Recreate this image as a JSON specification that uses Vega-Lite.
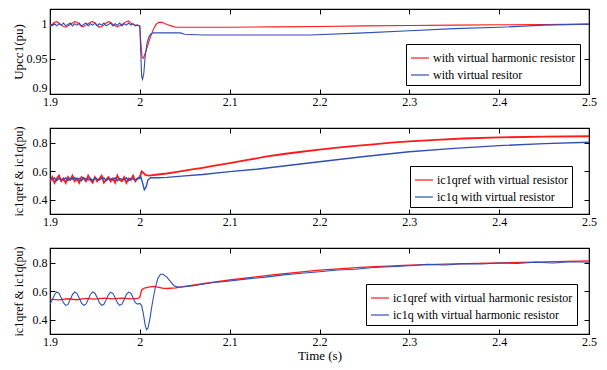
{
  "$schema": "https://vega.github.io/schema/vega-lite/v6.json",
  "padding": {"left": 11, "top": 7, "right": 10, "bottom": 6},
  "background": "white",
  "bounds": "flush",
  "spacing": 34,
  "config": {
    "view": {"stroke": "black", "strokeWidth": 1.2},
    "font": "Liberation Serif",
    "axis": {"domain": false, "grid": false, "tickColor": "black", "tickSize": -5, "tickWidth": 1, "labelFont": "Liberation Serif", "labelFontSize": 12, "labelColor": "black", "titleFont": "Liberation Serif", "titleFontSize": 13, "titleFontWeight": "normal", "titleColor": "black", "labelFlush": false, "labelOverlap": false, "labelPadding": 8},
    "axisBottom": {"labelPadding": 7},
    "legend": {"title": null, "orient": "none", "symbolType": "stroke", "symbolSize": 324, "symbolStrokeWidth": 1.2, "labelFont": "Liberation Serif", "labelFontSize": 12, "labelColor": "black", "strokeColor": "black", "fillColor": "white", "padding": 4, "rowPadding": 1, "labelOffset": 3, "labelLimit": 400}
  },
  "resolve": {"scale": {"color": "independent"}, "legend": {"color": "independent"}},
  "vconcat": [
    {
      "width": 539, "height": 85,
      "layer": [
        {
          "data": {"values": [
            {"t":1.9,"v":0.997},{"t":1.9025,"v":0.999},{"t":1.905,"v":1.002},{"t":1.9075,"v":1.003},{"t":1.91,"v":1.001},{"t":1.9125,"v":0.998},{"t":1.915,"v":0.996},{"t":1.9175,"v":0.995},{"t":1.92,"v":0.997},{"t":1.9225,"v":0.999},{"t":1.925,"v":1.001},{"t":1.9275,"v":1.003},{"t":1.93,"v":1.002},{"t":1.9325,"v":0.999},{"t":1.935,"v":0.996},{"t":1.9375,"v":0.996},{"t":1.94,"v":0.998},{"t":1.9425,"v":1.0},{"t":1.945,"v":1.002},{"t":1.9475,"v":1.003},{"t":1.95,"v":1.001},{"t":1.9525,"v":0.998},{"t":1.955,"v":0.995},{"t":1.9575,"v":0.996},{"t":1.96,"v":0.998},{"t":1.9625,"v":1.001},{"t":1.965,"v":1.003},{"t":1.9675,"v":1.002},{"t":1.97,"v":0.999},{"t":1.9725,"v":0.997},{"t":1.975,"v":0.996},{"t":1.9775,"v":0.997},{"t":1.98,"v":0.999},{"t":1.9825,"v":1.001},{"t":1.985,"v":1.003},{"t":1.9875,"v":1.004},{"t":1.99,"v":1.001},{"t":1.9925,"v":0.999},{"t":1.995,"v":0.998},{"t":1.9975,"v":0.998},
            {"t":2.0,"v":0.997},{"t":2.001,"v":0.975},{"t":2.0025,"v":0.952},{"t":2.004,"v":0.951},{"t":2.006,"v":0.958},{"t":2.008,"v":0.966},{"t":2.01,"v":0.974},{"t":2.012,"v":0.982},{"t":2.015,"v":0.992},{"t":2.018,"v":0.999},{"t":2.021,"v":1.002},{"t":2.025,"v":1.002},{"t":2.03,"v":0.999},{"t":2.035,"v":0.997},{"t":2.04,"v":0.995},{"t":2.05,"v":0.995},{"t":2.07,"v":0.995},{"t":2.1,"v":0.995},{"t":2.15,"v":0.9955},{"t":2.2,"v":0.996},{"t":2.25,"v":0.997},{"t":2.3,"v":0.9975},{"t":2.35,"v":0.998},{"t":2.4,"v":0.9985},{"t":2.45,"v":0.999},{"t":2.5,"v":0.9995}
          ]},
          "mark": {"type": "line", "strokeWidth": 1.1, "clip": true},
          "encoding": {
            "x": {"field": "t", "type": "quantitative", "scale": {"domain": [1.9, 2.5], "nice": false, "zero": false}, "axis": {"values": [1.9, 2, 2.1, 2.2, 2.3, 2.4, 2.5], "format": "~g", "title": null}},
            "y": {"field": "v", "type": "quantitative", "scale": {"domain": [0.9, 1.021], "nice": false, "zero": false}, "axis": {"values": [0.9, 0.95, 1], "format": "~g", "title": "Upcc1(pu)", "titleX": -28, "titleBaseline": "alphabetic", "labelFlush": true, "labelFlushOffset": 0}},
            "color": {"datum": "with virtual harmonic resistor", "type": "nominal", "scale": {"domain": ["with virtual harmonic resistor", "with virtual resitor"], "range": ["#ff1a1a", "#2f4fb5"]}, "legend": {"legendX": 356, "legendY": 35}}
          }
        },
        {
          "data": {"values": [
            {"t":1.9,"v":0.999},{"t":1.9025,"v":0.997},{"t":1.905,"v":1.0},{"t":1.9075,"v":0.997},{"t":1.91,"v":1.0},{"t":1.9125,"v":0.998},{"t":1.915,"v":1.001},{"t":1.9175,"v":0.997},{"t":1.92,"v":0.999},{"t":1.9225,"v":1.001},{"t":1.925,"v":0.997},{"t":1.9275,"v":1.0},{"t":1.93,"v":0.998},{"t":1.9325,"v":1.001},{"t":1.935,"v":0.997},{"t":1.9375,"v":0.999},{"t":1.94,"v":1.001},{"t":1.9425,"v":0.997},{"t":1.945,"v":1.0},{"t":1.9475,"v":0.998},{"t":1.95,"v":1.001},{"t":1.9525,"v":0.997},{"t":1.955,"v":1.0},{"t":1.9575,"v":0.998},{"t":1.96,"v":1.001},{"t":1.9625,"v":0.997},{"t":1.965,"v":0.999},{"t":1.9675,"v":1.001},{"t":1.97,"v":0.997},{"t":1.9725,"v":1.0},{"t":1.975,"v":0.998},{"t":1.9775,"v":1.001},{"t":1.98,"v":0.997},{"t":1.9825,"v":1.0},{"t":1.985,"v":0.998},{"t":1.9875,"v":1.001},{"t":1.99,"v":0.998},{"t":1.9925,"v":1.0},{"t":1.995,"v":0.997},{"t":1.9975,"v":0.998},
            {"t":2.0,"v":0.996},{"t":2.001,"v":0.96},{"t":2.002,"v":0.925},{"t":2.003,"v":0.921},{"t":2.0045,"v":0.93},{"t":2.006,"v":0.955},{"t":2.008,"v":0.972},{"t":2.01,"v":0.981},{"t":2.012,"v":0.985},{"t":2.015,"v":0.987},{"t":2.02,"v":0.987},{"t":2.03,"v":0.987},{"t":2.045,"v":0.987},{"t":2.05,"v":0.985},{"t":2.07,"v":0.984},{"t":2.1,"v":0.984},{"t":2.15,"v":0.984},{"t":2.19,"v":0.984},{"t":2.25,"v":0.987},{"t":2.3,"v":0.99},{"t":2.35,"v":0.993},{"t":2.4,"v":0.995},{"t":2.45,"v":0.998},{"t":2.5,"v":0.9995}
          ]},
          "mark": {"type": "line", "strokeWidth": 1.1, "clip": true},
          "encoding": {
            "x": {"field": "t", "type": "quantitative", "axis": null},
            "y": {"field": "v", "type": "quantitative", "axis": null},
            "color": {"datum": "with virtual resitor", "type": "nominal"}
          }
        },
        {
          "data": {"values": [{"t": 1.9, "v": 0.9}]},
          "mark": {"type": "point", "opacity": 0},
          "encoding": {
            "x": {"field": "t", "type": "quantitative", "axis": {"orient": "top", "labels": false, "values": [1.9, 2, 2.1, 2.2, 2.3, 2.4, 2.5], "title": null}},
            "y": {"field": "v", "type": "quantitative", "axis": {"orient": "right", "labels": false, "values": [0.9, 0.95, 1], "title": null}}
          }
        }
      ],
      "resolve": {"axis": {"x": "independent", "y": "independent"}}
    },
    {
      "width": 539, "height": 86,
      "layer": [
        {
          "data": {"values": [
            {"t":1.9,"v":0.53},{"t":1.9025,"v":0.56},{"t":1.905,"v":0.52},{"t":1.9075,"v":0.55},{"t":1.91,"v":0.57},{"t":1.9125,"v":0.53},{"t":1.915,"v":0.55},{"t":1.9175,"v":0.52},{"t":1.92,"v":0.56},{"t":1.9225,"v":0.54},{"t":1.925,"v":0.57},{"t":1.9275,"v":0.53},{"t":1.93,"v":0.55},{"t":1.9325,"v":0.52},{"t":1.935,"v":0.56},{"t":1.9375,"v":0.55},{"t":1.94,"v":0.53},{"t":1.9425,"v":0.57},{"t":1.945,"v":0.54},{"t":1.9475,"v":0.52},{"t":1.95,"v":0.56},{"t":1.9525,"v":0.53},{"t":1.955,"v":0.55},{"t":1.9575,"v":0.57},{"t":1.96,"v":0.52},{"t":1.9625,"v":0.54},{"t":1.965,"v":0.56},{"t":1.9675,"v":0.53},{"t":1.97,"v":0.55},{"t":1.9725,"v":0.52},{"t":1.975,"v":0.57},{"t":1.9775,"v":0.54},{"t":1.98,"v":0.53},{"t":1.9825,"v":0.56},{"t":1.985,"v":0.52},{"t":1.9875,"v":0.55},{"t":1.99,"v":0.54},{"t":1.9925,"v":0.57},{"t":1.995,"v":0.53},{"t":1.9975,"v":0.55},
            {"t":2.0,"v":0.56},{"t":2.002,"v":0.6},{"t":2.004,"v":0.59},{"t":2.006,"v":0.575},{"t":2.01,"v":0.57},{"t":2.02,"v":0.578},{"t":2.03,"v":0.585},{"t":2.04,"v":0.595},{"t":2.05,"v":0.605},{"t":2.06,"v":0.615},{"t":2.07,"v":0.625},{"t":2.08,"v":0.636},{"t":2.09,"v":0.647},{"t":2.1,"v":0.658},{"t":2.12,"v":0.68},{"t":2.14,"v":0.703},{"t":2.16,"v":0.722},{"t":2.18,"v":0.738},{"t":2.2,"v":0.753},{"t":2.22,"v":0.767},{"t":2.24,"v":0.779},{"t":2.26,"v":0.79},{"t":2.28,"v":0.802},{"t":2.3,"v":0.811},{"t":2.33,"v":0.822},{"t":2.36,"v":0.831},{"t":2.4,"v":0.839},{"t":2.45,"v":0.844},{"t":2.5,"v":0.847}
          ]},
          "mark": {"type": "line", "strokeWidth": 1.8, "clip": true},
          "encoding": {
            "x": {"field": "t", "type": "quantitative", "scale": {"domain": [1.9, 2.5], "nice": false, "zero": false}, "axis": {"values": [1.9, 2, 2.1, 2.2, 2.3, 2.4, 2.5], "format": "~g", "title": null}},
            "y": {"field": "v", "type": "quantitative", "scale": {"domain": [0.3, 0.905], "nice": false, "zero": false}, "axis": {"values": [0.4, 0.6, 0.8], "format": "~g", "title": "ic1qref & ic1q(pu)", "titleFontSize": 12, "titleX": -28, "titleBaseline": "alphabetic"}},
            "color": {"datum": "ic1qref with virtual resistor", "type": "nominal", "scale": {"domain": ["ic1qref with virtual resistor", "ic1q with virtual resistor"], "range": ["#ff1a1a", "#2f4fb5"]}, "legend": {"legendX": 360, "legendY": 38}}
          }
        },
        {
          "data": {"values": [
            {"t":1.9,"v":0.55},{"t":1.9025,"v":0.54},{"t":1.905,"v":0.555},{"t":1.9075,"v":0.535},{"t":1.91,"v":0.55},{"t":1.9125,"v":0.545},{"t":1.915,"v":0.54},{"t":1.9175,"v":0.555},{"t":1.92,"v":0.535},{"t":1.9225,"v":0.55},{"t":1.925,"v":0.545},{"t":1.9275,"v":0.555},{"t":1.93,"v":0.54},{"t":1.9325,"v":0.55},{"t":1.935,"v":0.535},{"t":1.9375,"v":0.555},{"t":1.94,"v":0.545},{"t":1.9425,"v":0.54},{"t":1.945,"v":0.55},{"t":1.9475,"v":0.535},{"t":1.95,"v":0.555},{"t":1.9525,"v":0.545},{"t":1.955,"v":0.54},{"t":1.9575,"v":0.55},{"t":1.96,"v":0.555},{"t":1.9625,"v":0.535},{"t":1.965,"v":0.545},{"t":1.9675,"v":0.55},{"t":1.97,"v":0.54},{"t":1.9725,"v":0.555},{"t":1.975,"v":0.535},{"t":1.9775,"v":0.55},{"t":1.98,"v":0.545},{"t":1.9825,"v":0.54},{"t":1.985,"v":0.555},{"t":1.9875,"v":0.535},{"t":1.99,"v":0.55},{"t":1.9925,"v":0.545},{"t":1.995,"v":0.54},{"t":1.9975,"v":0.55},
            {"t":2.0,"v":0.55},{"t":2.001,"v":0.565},{"t":2.003,"v":0.52},{"t":2.005,"v":0.47},{"t":2.007,"v":0.49},{"t":2.009,"v":0.54},{"t":2.012,"v":0.555},{"t":2.02,"v":0.555},{"t":2.03,"v":0.558},{"t":2.05,"v":0.568},{"t":2.07,"v":0.578},{"t":2.1,"v":0.598},{"t":2.13,"v":0.615},{"t":2.16,"v":0.638},{"t":2.2,"v":0.668},{"t":2.25,"v":0.705},{"t":2.3,"v":0.738},{"t":2.35,"v":0.762},{"t":2.4,"v":0.781},{"t":2.45,"v":0.795},{"t":2.5,"v":0.805}
          ]},
          "mark": {"type": "line", "strokeWidth": 1.4, "clip": true},
          "encoding": {
            "x": {"field": "t", "type": "quantitative", "axis": null},
            "y": {"field": "v", "type": "quantitative", "axis": null},
            "color": {"datum": "ic1q with virtual resistor", "type": "nominal"}
          }
        },
        {
          "data": {"values": [{"t": 1.9, "v": 0.3}]},
          "mark": {"type": "point", "opacity": 0},
          "encoding": {
            "x": {"field": "t", "type": "quantitative", "axis": {"orient": "top", "labels": false, "values": [1.9, 2, 2.1, 2.2, 2.3, 2.4, 2.5], "title": null}},
            "y": {"field": "v", "type": "quantitative", "axis": {"orient": "right", "labels": false, "values": [0.4, 0.6, 0.8], "title": null}}
          }
        }
      ],
      "resolve": {"axis": {"x": "independent", "y": "independent"}}
    },
    {
      "width": 539, "height": 86,
      "layer": [
        {
          "data": {"values": [
            {"t":1.9,"v":0.545},{"t":1.91,"v":0.54},{"t":1.92,"v":0.548},{"t":1.93,"v":0.541},{"t":1.94,"v":0.55},{"t":1.95,"v":0.545},{"t":1.96,"v":0.552},{"t":1.97,"v":0.547},{"t":1.98,"v":0.553},{"t":1.99,"v":0.547},{"t":1.998,"v":0.55},
            {"t":2.0,"v":0.56},{"t":2.002,"v":0.61},{"t":2.005,"v":0.622},{"t":2.01,"v":0.63},{"t":2.015,"v":0.635},{"t":2.02,"v":0.63},{"t":2.025,"v":0.622},{"t":2.03,"v":0.62},{"t":2.04,"v":0.625},{"t":2.05,"v":0.635},{"t":2.07,"v":0.655},{"t":2.1,"v":0.68},{"t":2.15,"v":0.717},{"t":2.2,"v":0.75},{"t":2.25,"v":0.77},{"t":2.3,"v":0.785},{"t":2.35,"v":0.794},{"t":2.4,"v":0.801},{"t":2.45,"v":0.808},{"t":2.5,"v":0.814}
          ]},
          "mark": {"type": "line", "strokeWidth": 1.3, "clip": true},
          "encoding": {
            "x": {"field": "t", "type": "quantitative", "scale": {"domain": [1.9, 2.5], "nice": false, "zero": false}, "axis": {"values": [1.9, 2, 2.1, 2.2, 2.3, 2.4, 2.5], "format": "~g", "title": "Time (s)", "titlePadding": 2}},
            "y": {"field": "v", "type": "quantitative", "scale": {"domain": [0.3, 0.905], "nice": false, "zero": false}, "axis": {"values": [0.4, 0.6, 0.8], "format": "~g", "title": "ic1qref & ic1q(pu)", "titleFontSize": 12, "titleX": -28, "titleBaseline": "alphabetic"}},
            "color": {"datum": "ic1qref with virtual harmonic resistor", "type": "nominal", "scale": {"domain": ["ic1qref with virtual harmonic resistor", "ic1q with virtual harmonic resistor"], "range": ["#ff1a1a", "#2f4fb5"]}, "legend": {"legendX": 316, "legendY": 36}}
          }
        },
        {
          "data": {"values": [
            {"t":1.9,"v":0.509},{"t":1.9025,"v":0.54},{"t":1.905,"v":0.576},{"t":1.9075,"v":0.596},{"t":1.91,"v":0.587},{"t":1.9125,"v":0.555},{"t":1.915,"v":0.52},{"t":1.9175,"v":0.501},
            {"t":1.92,"v":0.508},{"t":1.9225,"v":0.541},{"t":1.925,"v":0.577},{"t":1.9275,"v":0.595},{"t":1.93,"v":0.586},{"t":1.9325,"v":0.554},{"t":1.935,"v":0.519},{"t":1.9375,"v":0.502},
            {"t":1.94,"v":0.51},{"t":1.9425,"v":0.542},{"t":1.945,"v":0.578},{"t":1.9475,"v":0.596},{"t":1.95,"v":0.587},{"t":1.9525,"v":0.556},{"t":1.955,"v":0.521},{"t":1.9575,"v":0.502},
            {"t":1.96,"v":0.509},{"t":1.9625,"v":0.54},{"t":1.965,"v":0.576},{"t":1.9675,"v":0.594},{"t":1.97,"v":0.586},{"t":1.9725,"v":0.555},{"t":1.975,"v":0.52},{"t":1.9775,"v":0.502},
            {"t":1.98,"v":0.51},{"t":1.9825,"v":0.541},{"t":1.985,"v":0.577},{"t":1.9875,"v":0.595},{"t":1.99,"v":0.587},{"t":1.9925,"v":0.555},{"t":1.995,"v":0.52},{"t":1.9975,"v":0.51},
            {"t":2.0,"v":0.515},{"t":2.002,"v":0.5},{"t":2.004,"v":0.44},{"t":2.006,"v":0.36},{"t":2.0075,"v":0.33},{"t":2.009,"v":0.34},{"t":2.011,"v":0.4},{"t":2.014,"v":0.52},{"t":2.017,"v":0.62},{"t":2.02,"v":0.69},{"t":2.023,"v":0.72},{"t":2.026,"v":0.72},{"t":2.03,"v":0.7},{"t":2.034,"v":0.67},{"t":2.038,"v":0.64},{"t":2.042,"v":0.63},{"t":2.05,"v":0.632},{"t":2.06,"v":0.64},{"t":2.07,"v":0.65},{"t":2.08,"v":0.66},{"t":2.1,"v":0.673},{"t":2.12,"v":0.688},{"t":2.14,"v":0.7},{"t":2.16,"v":0.716},{"t":2.18,"v":0.727},{"t":2.2,"v":0.738},{"t":2.22,"v":0.75},{"t":2.24,"v":0.755},{"t":2.26,"v":0.768},{"t":2.28,"v":0.773},{"t":2.3,"v":0.78},{"t":2.32,"v":0.79},{"t":2.34,"v":0.785},{"t":2.36,"v":0.795},{"t":2.38,"v":0.792},{"t":2.4,"v":0.8},{"t":2.42,"v":0.796},{"t":2.44,"v":0.805},{"t":2.46,"v":0.8},{"t":2.48,"v":0.808},{"t":2.5,"v":0.805}
          ]},
          "mark": {"type": "line", "strokeWidth": 1.1, "clip": true},
          "encoding": {
            "x": {"field": "t", "type": "quantitative", "axis": null},
            "y": {"field": "v", "type": "quantitative", "axis": null},
            "color": {"datum": "ic1q with virtual harmonic resistor", "type": "nominal"}
          }
        },
        {
          "data": {"values": [{"t": 1.9, "v": 0.3}]},
          "mark": {"type": "point", "opacity": 0},
          "encoding": {
            "x": {"field": "t", "type": "quantitative", "axis": {"orient": "top", "labels": false, "values": [1.9, 2, 2.1, 2.2, 2.3, 2.4, 2.5], "title": null}},
            "y": {"field": "v", "type": "quantitative", "axis": {"orient": "right", "labels": false, "values": [0.4, 0.6, 0.8], "title": null}}
          }
        }
      ],
      "resolve": {"axis": {"x": "independent", "y": "independent"}}
    }
  ]
}
